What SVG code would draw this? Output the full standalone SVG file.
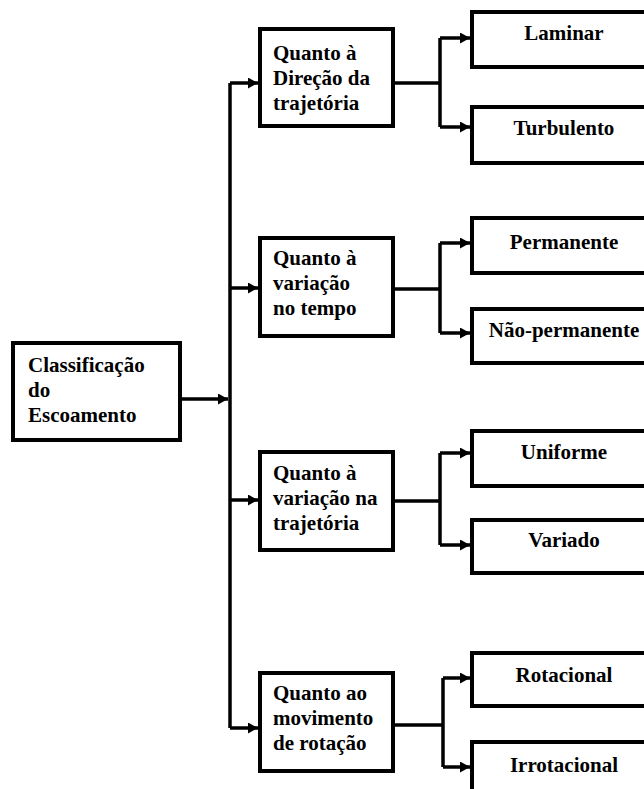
<svg xmlns="http://www.w3.org/2000/svg" width="644" height="789" viewBox="0 0 644 789">
<defs>
<style>
.box{fill:#fff;stroke:#000;stroke-width:4}
.t{font-family:"Liberation Serif","Times New Roman",serif;font-weight:bold;font-size:21px;fill:#000}
.c{text-anchor:middle}
.ln{fill:none;stroke:#000;stroke-width:3.5}
</style>
<marker id="ah" markerUnits="userSpaceOnUse" markerWidth="11" markerHeight="11" refX="10" refY="5.5" orient="auto">
<path d="M0,0 L10,5.5 L0,11 z" fill="#000"/>
</marker>
</defs>
<rect width="644" height="789" fill="#fff"/>
<g id="connectors">
<path class="ln" d="M180,399 H228" marker-end="url(#ah)"/>
<path class="ln" d="M230,83 V728"/>
<path class="ln" d="M230,83 H258" marker-end="url(#ah)"/>
<path class="ln" d="M230,288 H258" marker-end="url(#ah)"/>
<path class="ln" d="M230,500 H258" marker-end="url(#ah)"/>
<path class="ln" d="M230,728 H258" marker-end="url(#ah)"/>
<path class="ln" d="M393,83 H440"/>
<path class="ln" d="M440,38 V127"/>
<path class="ln" d="M440,38 H470" marker-end="url(#ah)"/>
<path class="ln" d="M440,127 H470" marker-end="url(#ah)"/>
<path class="ln" d="M393,289 H440"/>
<path class="ln" d="M440,243 V333"/>
<path class="ln" d="M440,243 H470" marker-end="url(#ah)"/>
<path class="ln" d="M440,333 H470" marker-end="url(#ah)"/>
<path class="ln" d="M393,501 H440"/>
<path class="ln" d="M440,453 V545"/>
<path class="ln" d="M440,453 H470" marker-end="url(#ah)"/>
<path class="ln" d="M440,545 H470" marker-end="url(#ah)"/>
<path class="ln" d="M393,725 H443"/>
<path class="ln" d="M443,678 V767"/>
<path class="ln" d="M443,678 H470" marker-end="url(#ah)"/>
<path class="ln" d="M443,767 H470" marker-end="url(#ah)"/>
</g>
<g id="root">
<rect class="box" x="13" y="343" width="167" height="97"/>
<text class="t" x="28" y="372">Classificação</text>
<text class="t" x="28" y="397">do</text>
<text class="t" x="28" y="422">Escoamento</text>
</g>
<g id="direcao">
<rect class="box" x="260" y="29" width="133" height="97"/>
<text class="t" x="273" y="60">Quanto à</text>
<text class="t" x="273" y="85">Direção da</text>
<text class="t" x="273" y="110">trajetória</text>
</g>
<g id="tempo">
<rect class="box" x="260" y="238" width="133" height="98"/>
<text class="t" x="273" y="265">Quanto à</text>
<text class="t" x="273" y="290">variação</text>
<text class="t" x="273" y="315">no tempo</text>
</g>
<g id="trajetoria">
<rect class="box" x="260" y="452" width="133" height="98"/>
<text class="t" x="273" y="480">Quanto à</text>
<text class="t" x="273" y="505">variação na</text>
<text class="t" x="273" y="530">trajetória</text>
</g>
<g id="rotacao">
<rect class="box" x="260" y="673" width="133" height="98"/>
<text class="t" x="273" y="700">Quanto ao</text>
<text class="t" x="273" y="725">movimento</text>
<text class="t" x="273" y="750">de rotação</text>
</g>
<g id="laminar">
<rect class="box" x="472" y="12" width="190" height="55"/>
<text class="t c" x="564" y="40">Laminar</text>
</g>
<g id="turbulento">
<rect class="box" x="472" y="107" width="190" height="56"/>
<text class="t c" x="564" y="135">Turbulento</text>
</g>
<g id="permanente">
<rect class="box" x="472" y="218" width="190" height="55"/>
<text class="t c" x="564" y="249">Permanente</text>
</g>
<g id="naopermanente">
<rect class="box" x="472" y="309" width="190" height="54"/>
<text class="t c" x="564" y="337">Não-permanente</text>
</g>
<g id="uniforme">
<rect class="box" x="472" y="431" width="190" height="55"/>
<text class="t c" x="564" y="459">Uniforme</text>
</g>
<g id="variado">
<rect class="box" x="472" y="520" width="190" height="53"/>
<text class="t c" x="564" y="547">Variado</text>
</g>
<g id="rotacional">
<rect class="box" x="472" y="653" width="190" height="53"/>
<text class="t c" x="564" y="682">Rotacional</text>
</g>
<g id="irrotacional">
<rect class="box" x="472" y="742" width="190" height="60"/>
<text class="t c" x="564" y="772">Irrotacional</text>
</g>
</svg>
